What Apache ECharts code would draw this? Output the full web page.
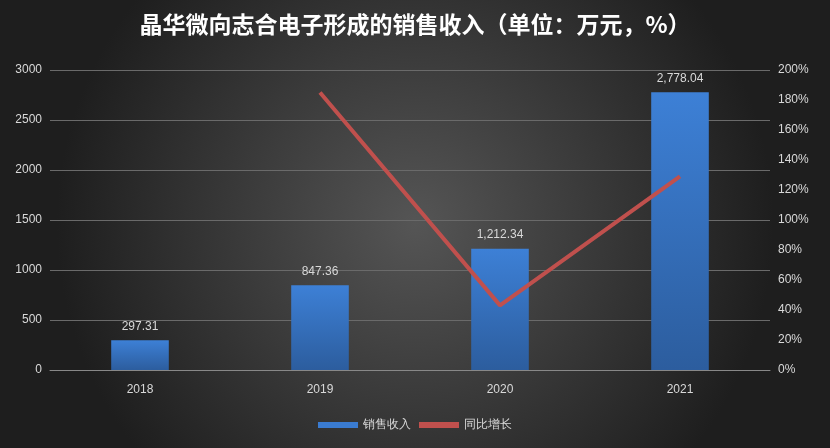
<!DOCTYPE html>
<html><head><meta charset="utf-8">
<script src="https://cdn.jsdelivr.net/npm/echarts@6/dist/echarts.min.js"></script>
<style>html,body{margin:0;padding:0;}#c{width:830px;height:448px;}</style>
</head><body><div id="c"></div>
<script>
var categories=['2018','2019','2020','2021'];
var sales=[297.31,847.36,1212.34,2778.04];
var growth=[null,185.01,43.07,129.15];
var chart=echarts.init(document.getElementById('c'));
chart.setOption({
  backgroundColor:{type:'radial',x:0.5,y:0.5,r:0.8,colorStops:[{offset:0,color:'#555555'},{offset:1,color:'#1e1e1e'}]},
  title:{text:'晶华微向志合电子形成的销售收入（单位：万元，%）',left:'center',top:8,
    textStyle:{color:'#ffffff',fontSize:23,fontWeight:'bold',fontFamily:'Noto Sans CJK SC'}},
  legend:{bottom:12,itemGap:8,textStyle:{color:'#d9d9d9',fontSize:12},
    data:[{name:'销售收入',icon:'rect',itemStyle:{color:'#3a7bd0'}},{name:'同比增长',icon:'rect'}],itemWidth:40,itemHeight:6},
  grid:{left:50,right:60,top:70,bottom:78},
  xAxis:{type:'category',data:categories,axisTick:{show:false},
    axisLine:{lineStyle:{color:'#888'}},axisLabel:{color:'#d9d9d9',fontSize:12,margin:14}},
  yAxis:[
    {type:'value',min:0,max:3000,interval:500,axisLabel:{color:'#d9d9d9',fontSize:12,formatter:function(v){return String(v);}},
     splitLine:{lineStyle:{color:'#6a6a6a'}}},
    {type:'value',min:0,max:200,interval:20,axisLabel:{color:'#d9d9d9',fontSize:12,formatter:'{value}%'},
     splitLine:{show:false}}
  ],
  series:[
    {name:'销售收入',type:'bar',data:sales,barWidth:'32%',
     itemStyle:{color:{type:'linear',x:0,y:0,x2:0,y2:1,colorStops:[{offset:0,color:'#3d80d6'},{offset:1,color:'#2c5d9e'}]}},
     label:{show:true,position:'top',color:'#d9d9d9',fontSize:12,distance:8,
       formatter:function(p){return p.value.toLocaleString('en-US',{minimumFractionDigits:2});}}},
    {name:'同比增长',type:'line',yAxisIndex:1,data:growth,symbol:'none',
     lineStyle:{color:'#c0504d',width:4},itemStyle:{color:'#c0504d'}}
  ]
});
</script></body></html>
